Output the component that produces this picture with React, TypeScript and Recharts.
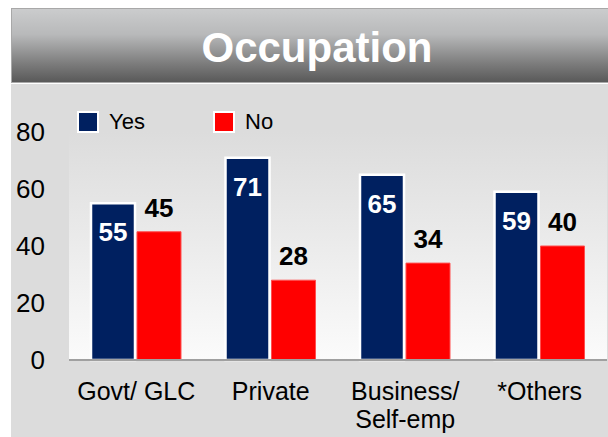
import React from "react";
import { BarChart, Bar, XAxis, YAxis, CartesianGrid, Legend, LabelList } from "recharts";

const categories = ["Govt/ GLC", "Private", "Business/\nSelf-emp", "*Others"];
const yesValues = [55, 71, 65, 59];
const noValues = [45, 28, 34, 40];
const yTicks = [0, 20, 40, 60, 80];
const seriesNames = ["Yes", "No"];

const data = categories.map((c, i) => ({ name: c, yes: yesValues[i], no: noValues[i] }));

const FONT = "'Liberation Sans', Arial, sans-serif";
const NAVY = "#002060";
const RED = "#ff0000";

const XTick = (props: any) => {
  const { x, y, payload } = props;
  const lines = String(payload.value).split("\n");
  return (
    <g>
      {lines.map((l: string, i: number) => (
        <text key={i} x={x} y={y + 31 + i * 28} textAnchor="middle" dominantBaseline="central" fontSize={25} fill="#000" fontFamily={FONT}>
          {l}
        </text>
      ))}
    </g>
  );
};

const YesLabel = (props: any) => {
  const { x, y, width, value } = props;
  return (
    <text x={x + width / 2} y={y + 29} textAnchor="middle" dominantBaseline="central" fontSize={26} fontWeight="bold" fill="#fff" fontFamily={FONT}>
      {value}
    </text>
  );
};

const NoLabel = (props: any) => {
  const { x, y, width, value } = props;
  return (
    <text x={x + width / 2} y={y - 24} textAnchor="middle" dominantBaseline="central" fontSize={26} fontWeight="bold" fill="#000" fontFamily={FONT}>
      {value}
    </text>
  );
};

const LegendContent = () => {
  const items = [
    { label: seriesNames[0], color: NAVY, left: 77 },
    { label: seriesNames[1], color: RED, left: 213 },
  ];
  return (
    <div style={{ position: "relative", width: 300, height: 30 }}>
      {items.map((it) => (
        <div key={it.label} style={{ position: "absolute", left: it.left, top: 0, display: "flex", alignItems: "center" }}>
          <div style={{ width: 18, height: 18, background: it.color, border: "2px solid #fff" }} />
          <span style={{ marginLeft: 10, fontSize: 22, fontFamily: FONT, color: "#000" }}>{it.label}</span>
        </div>
      ))}
    </div>
  );
};

export default function App() {
  return (
    <div style={{ position: "absolute", left: 0, top: 0, width: 608, height: 437, background: "#fff", overflow: "hidden" }}>
      <svg width={0} height={0} style={{ position: "absolute" }}>
        <defs>
          <linearGradient id="plotBg" x1="0" y1="0" x2="0" y2="1">
            <stop offset="0%" stopColor="#dcdcdc" />
            <stop offset="100%" stopColor="#fbfbfb" />
          </linearGradient>
        </defs>
      </svg>
      <div
        style={{
          position: "absolute",
          left: 11,
          top: 8,
          width: 600,
          height: 75,
          boxSizing: "border-box",
          border: "1px solid #a8a8a8",
          background: "linear-gradient(#cbcccd 0%, #b8b9ba 35%, #7c7c7c 75%, #595959 100%)",
          display: "flex",
          alignItems: "center",
          justifyContent: "center",
          paddingLeft: 12,
          paddingTop: 4,
        }}
      >
        <span style={{ color: "#fff", fontSize: 42, fontWeight: "bold", fontFamily: FONT }}>Occupation</span>
      </div>
      <div style={{ position: "absolute", left: 11, top: 84, width: 597, height: 353, background: "#dcdcdc" }} />
      <div style={{ position: "absolute", left: 0, top: 0 }}>
        <BarChart width={608} height={437} data={data} margin={{ top: 132, right: 1, bottom: 47, left: 0 }} barGap={2} barSize={44}>
          <CartesianGrid horizontal={false} vertical={false} fill="url(#plotBg)" stroke="none" />
          <YAxis
            domain={[0, 80]}
            ticks={yTicks}
            width={69}
            axisLine={false}
            tickLine={false}
            tickSize={0}
            tickMargin={24}
            tick={{ fontSize: 26, fill: "#000", fontFamily: FONT }}
          />
          <XAxis dataKey="name" height={30} axisLine={{ stroke: "#a0a0a0", strokeWidth: 2 }} tickLine={false} tickSize={0} tickMargin={0} tick={<XTick />} interval={0} />
          <Legend
            layout="horizontal"
            verticalAlign="middle"
            align="center"
            content={<LegendContent />}
            wrapperStyle={{ position: "absolute", left: 0, top: 109, width: 300, height: 30 }}
          />
          <Bar dataKey="yes" name={seriesNames[0]} fill={NAVY} stroke="#fff" strokeWidth={2.5} isAnimationActive={false}>
            <LabelList dataKey="yes" content={<YesLabel />} />
          </Bar>
          <Bar dataKey="no" name={seriesNames[1]} fill={RED} stroke="#ff5050" strokeWidth={1} isAnimationActive={false}>
            <LabelList dataKey="no" content={<NoLabel />} />
          </Bar>
        </BarChart>
      </div>
    </div>
  );
}
